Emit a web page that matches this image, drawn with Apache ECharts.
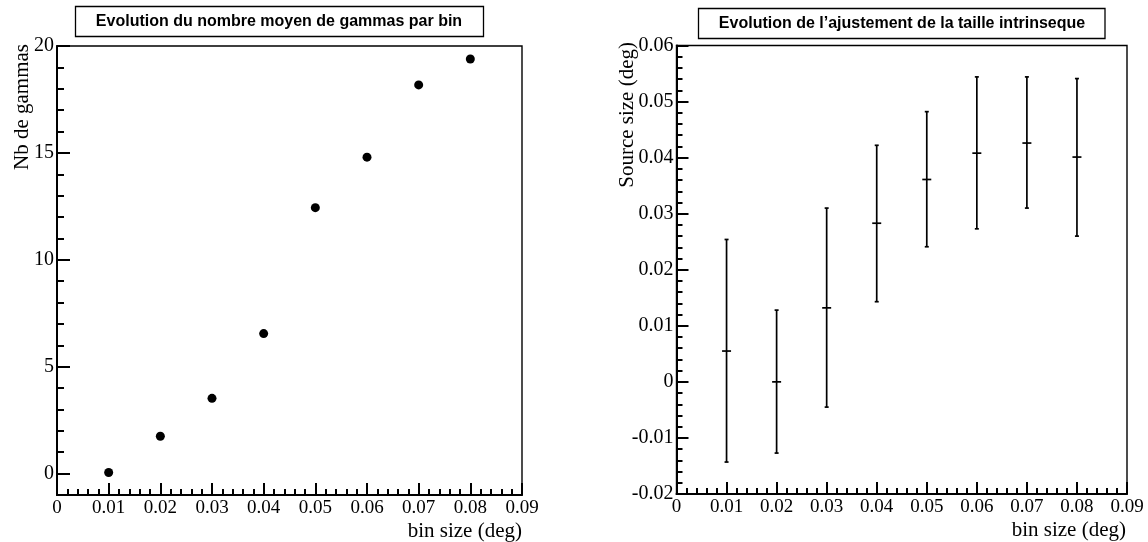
<!DOCTYPE html>
<html>
<head>
<meta charset="utf-8">
<script src="https://cdn.jsdelivr.net/npm/echarts@6/dist/echarts.min.js"></script>
<style>
html,body{margin:0;padding:0;background:#fff;}
#chart{width:1148px;height:542px;}
</style>
</head>
<body>
<div id="chart"></div>
<script>
// ---- data ----
const binSizes = [0.01, 0.02, 0.03, 0.04, 0.05, 0.06, 0.07, 0.08];
const nbGammas = [0.05, 1.75, 3.52, 6.55, 12.44, 14.8, 18.18, 19.39];
const sourceSize = [0.0055, 0.0, 0.0132, 0.0283, 0.0361, 0.0408, 0.0426, 0.0401];
const sourceSizeLow = [-0.0143, -0.0127, -0.0045, 0.0143, 0.0241, 0.0273, 0.0310, 0.0260];
const sourceSizeHigh = [0.0254, 0.0128, 0.0310, 0.0422, 0.0482, 0.0544, 0.0544, 0.0541];
const xTicks = [0, 0.01, 0.02, 0.03, 0.04, 0.05, 0.06, 0.07, 0.08, 0.09];
const yTicksLeft = [0, 5, 10, 15, 20];
const yTicksRight = [-0.02, -0.01, 0, 0.01, 0.02, 0.03, 0.04, 0.05, 0.06];
const titleLeft = 'Evolution du nombre moyen de gammas par bin';
const titleRight = 'Evolution de l\u2019ajustement de la taille intrinseque';
const xName = 'bin size (deg)';
const yNameLeft = 'Nb de gammas';
const yNameRight = 'Source size (deg)';

const SERIF = '"Liberation Serif", "Times New Roman", serif';
const SANS = '"Liberation Sans", Arial, sans-serif';
const LW = 2;     // axis lines and ticks
const BW = 1.4;   // frame border
const EW = 1.7;   // error bars

function fmt(v) {
  if (Math.abs(v) < 1e-12) return '0';
  return v.toFixed(2);
}

function xAxisDef(gridIndex) {
  return {
    type: 'value', gridIndex: gridIndex,
    min: xTicks[0], max: xTicks[xTicks.length - 1], interval: 0.01,
    axisLine: {show: true, onZero: false, lineStyle: {color: '#000', width: LW}},
    axisTick: {show: true, inside: true, length: 12, lineStyle: {color: '#000', width: LW}},
    minorTick: {show: true, splitNumber: 5, length: 6, lineStyle: {color: '#000', width: LW}},
    splitLine: {show: false},
    axisLabel: {show: true, color: '#000', fontFamily: SERIF, fontSize: 19, margin: 4,
      formatter: fmt, showMinLabel: true, showMaxLabel: true}
  };
}

const chart = echarts.init(document.getElementById('chart'), null, {renderer: 'canvas'});

const option = {
  backgroundColor: '#fff',
  animation: false,
  grid: [
    {left: 57, top: 46, width: 465, height: 449, show: true, borderColor: '#000', borderWidth: BW, backgroundColor: 'transparent'},
    {left: 676.5, top: 45.5, width: 450.5, height: 448.5, show: true, borderColor: '#000', borderWidth: BW, backgroundColor: 'transparent'}
  ],
  xAxis: [xAxisDef(0), xAxisDef(1)],
  yAxis: [
    // left panel: minor ticks every 1
    {
      type: 'value', gridIndex: 0, min: -1, max: 20, interval: 1, position: 'left',
      axisLine: {show: false},
      axisTick: {show: true, inside: true, length: 7, lineStyle: {color: '#000', width: LW}},
      axisLabel: {show: false},
      splitLine: {show: false}
    },
    // left panel: major ticks + labels
    {
      type: 'value', gridIndex: 0, min: -1, max: 20, position: 'left', offset: 0,
      axisLine: {show: true, onZero: false, lineStyle: {color: '#000', width: LW}},
      axisTick: {show: true, inside: true, length: 13, customValues: yTicksLeft, lineStyle: {color: '#000', width: LW}},
      axisLabel: {show: true, customValues: yTicksLeft, color: '#000', fontFamily: SERIF, fontSize: 20, margin: 3,
        formatter: (v) => String(v)},
      splitLine: {show: false}
    },
    // right panel
    {
      type: 'value', gridIndex: 1, min: yTicksRight[0], max: yTicksRight[yTicksRight.length - 1], interval: 0.01, position: 'left',
      axisLine: {show: true, onZero: false, lineStyle: {color: '#000', width: LW}},
      axisTick: {show: true, inside: true, length: 12, lineStyle: {color: '#000', width: LW}},
      minorTick: {show: true, splitNumber: 5, length: 6, lineStyle: {color: '#000', width: LW}},
      axisLabel: {show: true, color: '#000', fontFamily: SERIF, fontSize: 20, margin: 3,
        padding: [8, 0, 0, 0], formatter: fmt, showMinLabel: true, showMaxLabel: true},
      splitLine: {show: false}
    }
  ],
  series: [
    {
      type: 'scatter', xAxisIndex: 0, yAxisIndex: 1,
      symbol: 'circle', symbolSize: 9,
      itemStyle: {color: '#000', opacity: 1},
      data: binSizes.map((b, i) => [b, nbGammas[i]]),
      z: 5
    },
    {
      type: 'custom', xAxisIndex: 1, yAxisIndex: 2,
      encode: {x: 0, y: [1, 2, 3]},
      data: binSizes.map((b, i) => [b, sourceSize[i], sourceSizeLow[i], sourceSizeHigh[i]]),
      renderItem: function (params, api) {
        const x = api.value(0);
        const c = api.coord([x, api.value(1)]);
        const lo = api.coord([x, api.value(2)]);
        const hi = api.coord([x, api.value(3)]);
        const st = {stroke: '#000', lineWidth: EW, fill: null};
        return {
          type: 'group',
          children: [
            {type: 'line', shape: {x1: lo[0], y1: lo[1], x2: hi[0], y2: hi[1]}, style: st},
            {type: 'line', shape: {x1: hi[0] - 2, y1: hi[1], x2: hi[0] + 2, y2: hi[1]}, style: st},
            {type: 'line', shape: {x1: lo[0] - 2, y1: lo[1], x2: lo[0] + 2, y2: lo[1]}, style: st},
            {type: 'line', shape: {x1: c[0] - 4.5, y1: c[1], x2: c[0] + 4.5, y2: c[1]}, style: st}
          ]
        };
      },
      z: 5
    }
  ],
  graphic: [
    {type: 'rect', shape: {x: 75.5, y: 6.5, width: 408, height: 30}, style: {fill: '#fff', stroke: '#000', lineWidth: 1.3}},
    {type: 'text', x: 279, y: 22, style: {text: titleLeft, fill: '#000', font: 'bold 16px ' + SANS, align: 'center', verticalAlign: 'middle'}},
    {type: 'rect', shape: {x: 698.5, y: 8.5, width: 406.5, height: 30}, style: {fill: '#fff', stroke: '#000', lineWidth: 1.3}},
    {type: 'text', x: 902, y: 24, style: {text: titleRight, fill: '#000', font: 'bold 16px ' + SANS, align: 'center', verticalAlign: 'middle'}},
    {type: 'text', x: 22, y: 44, rotation: Math.PI / 2, style: {text: yNameLeft, fill: '#000', font: '21px ' + SERIF, align: 'right', verticalAlign: 'middle'}},
    {type: 'text', x: 627, y: 42, rotation: Math.PI / 2, style: {text: yNameRight, fill: '#000', font: '21px ' + SERIF, align: 'right', verticalAlign: 'middle'}},
    {type: 'text', x: 522, y: 531, style: {text: xName, fill: '#000', font: '21px ' + SERIF, align: 'right', verticalAlign: 'middle'}},
    {type: 'text', x: 1126, y: 530, style: {text: xName, fill: '#000', font: '21px ' + SERIF, align: 'right', verticalAlign: 'middle'}}
  ]
};

chart.setOption(option);
</script>
</body>
</html>
